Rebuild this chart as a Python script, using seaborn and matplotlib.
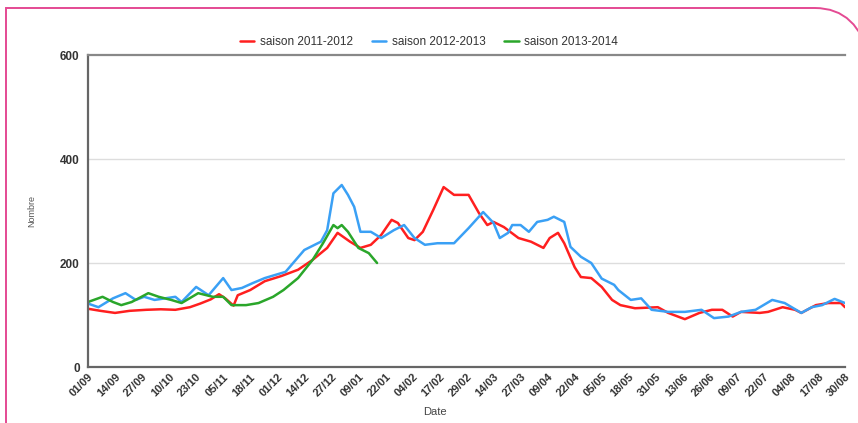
import pandas as pd
import matplotlib.pyplot as plt
import seaborn as sns
from matplotlib.path import Path
from matplotlib.patches import PathPatch

# --- données (jour depuis le 01/09, nombre) ---
jours_1112 = [0, 6, 13, 20, 28, 35, 42, 49, 54, 59, 63, 66, 70, 72, 78, 85, 93, 101,
              108, 115, 120, 126, 131, 136, 141, 146, 149, 154, 157, 161, 166, 171,
              176, 183, 188, 192, 195, 200, 207, 213, 219, 222, 226, 229, 234, 237,
              242, 247, 252, 256, 263, 274, 279, 287, 294, 300, 305, 310, 314, 323,
              327, 334, 340, 343, 350, 356, 362, 364]
val_1112 = [112, 108, 104, 108, 110, 111, 110, 115, 122, 130, 140, 132, 118, 138, 148,
            165, 175, 187, 206, 229, 258, 241, 229, 235, 254, 283, 277, 248, 244, 260,
            302, 346, 331, 331, 296, 273, 279, 269, 248, 241, 229, 248, 258, 238, 192,
            173, 171, 154, 129, 119, 113, 115, 104, 92, 104, 110, 110, 97, 106, 104,
            106, 115, 110, 104, 119, 123, 123, 115]

jours_1213 = [0, 5, 12, 18, 23, 27, 32, 37, 42, 45, 52, 58, 65, 69, 74, 79, 85, 95,
              104, 112, 115, 118, 122, 125, 128, 131, 136, 141, 147, 152, 157, 162,
              168, 176, 183, 190, 195, 198, 202, 204, 208, 212, 216, 221, 224, 229,
              232, 237, 242, 247, 253, 255, 261, 266, 271, 279, 287, 295, 301, 308,
              314, 321, 329, 335, 343, 348, 353, 359, 364]
val_1213 = [122, 115, 132, 142, 129, 135, 129, 132, 135, 125, 154, 138, 171, 148, 152,
            161, 171, 183, 225, 241, 263, 334, 350, 331, 308, 260, 260, 248, 263, 273,
            248, 235, 238, 238, 267, 298, 277, 248, 258, 273, 273, 260, 279, 283, 289,
            279, 231, 212, 200, 170, 158, 148, 129, 132, 110, 106, 106, 110, 94, 97,
            106, 110, 129, 123, 104, 115, 119, 131, 123]

jours_1314 = [0, 7, 12, 16, 21, 29, 34, 40, 45, 53, 60, 65, 69, 76, 82, 89, 94, 101,
              108, 113, 118, 120, 122, 125, 130, 135, 139]
val_1314 = [125, 135, 125, 119, 125, 142, 135, 129, 123, 142, 135, 135, 119, 119, 123,
            135, 148, 171, 206, 238, 273, 267, 273, 260, 229, 219, 200]

saisons = ["saison 2011-2012", "saison 2012-2013", "saison 2013-2014"]
couleurs = ["#ff1f1f", "#3aa0f5", "#2aa62a"]

tick_labels = ["01/09", "14/09", "27/09", "10/10", "23/10", "05/11", "18/11", "01/12",
               "14/12", "27/12", "09/01", "22/01", "04/02", "17/02", "29/02", "14/03",
               "27/03", "09/04", "22/04", "05/05", "18/05", "31/05", "13/06", "26/06",
               "09/07", "22/07", "04/08", "17/08", "30/08"]

df = pd.concat([
    pd.DataFrame({"Date": jours_1112, "Nombre": val_1112, "saison": saisons[0]}),
    pd.DataFrame({"Date": jours_1213, "Nombre": val_1213, "saison": saisons[1]}),
    pd.DataFrame({"Date": jours_1314, "Nombre": val_1314, "saison": saisons[2]}),
])

sns.set_theme(style="white")
plt.rcParams['font.family'] = ['Liberation Sans', 'DejaVu Sans']

W, H = 858, 423
fig = plt.figure(figsize=(W / 100, H / 100), dpi=100)
ax = fig.add_axes([88 / W, 1 - 367 / H, (845 - 88) / W, 312 / H])

sns.lineplot(data=df, x="Date", y="Nombre", hue="saison", palette=dict(zip(saisons, couleurs)),
             linewidth=1.8, ax=ax, legend=True, estimator=None, sort=False)

ax.set_xlim(0, 364)
ax.set_ylim(0, 600)
ax.set_xticks([13 * i for i in range(len(tick_labels))])
ax.set_xticklabels(tick_labels, rotation=45, ha="right", rotation_mode="anchor",
                   fontsize=8, fontweight="bold", color="#333333")
ax.set_yticks([0, 200, 400, 600])
ax.set_yticklabels(["0", "200", "400", "600"], fontsize=8.5, fontweight="bold", color="#333333")
ax.tick_params(axis="x", length=3, width=1, color="#444444", direction="inout", pad=2)
ax.tick_params(axis="y", length=0, pad=6)

for y in [200, 400]:
    ax.axhline(y, color="#dddddd", linewidth=1, zorder=0)

for side in ["left", "bottom"]:
    ax.spines[side].set_color("#666666")
    ax.spines[side].set_linewidth(1.6)
ax.spines["top"].set_color("#888888")
ax.spines["top"].set_linewidth(1.6)
ax.spines["right"].set_visible(False)

ax.set_xlabel("Date", fontsize=8, color="#444444")
ax.xaxis.set_label_coords((435 - 88) / (845 - 88), -(407 - 367) / 312)
ax.set_ylabel("Nombre", fontsize=6.5, color="#555555")
ax.yaxis.set_label_coords(-(88 - 36) / (845 - 88), 0.5)

handles, labels = ax.get_legend_handles_labels()
ax.get_legend().remove()
fig.legend(handles, labels, loc="center", bbox_to_anchor=(0.5, 1 - 42 / H), ncol=3,
           frameon=False, fontsize=8.5, handlelength=1.2, handletextpad=0.5,
           columnspacing=1.6, labelcolor="#333333")

# cadre rose arrondi autour du graphique
pts = [(6, H + 5), (6, 8), (815, 8), (858, 8), (870, 60)]
verts = [(x / W, 1 - y / H) for x, y in pts]
codes = [Path.MOVETO, Path.LINETO, Path.LINETO, Path.CURVE3, Path.CURVE3]
fig.patches.append(PathPatch(Path(verts, codes), transform=fig.transFigure,
                             fill=False, edgecolor="#e44a93", linewidth=1.4))

plt.savefig("out.png", dpi=100)
